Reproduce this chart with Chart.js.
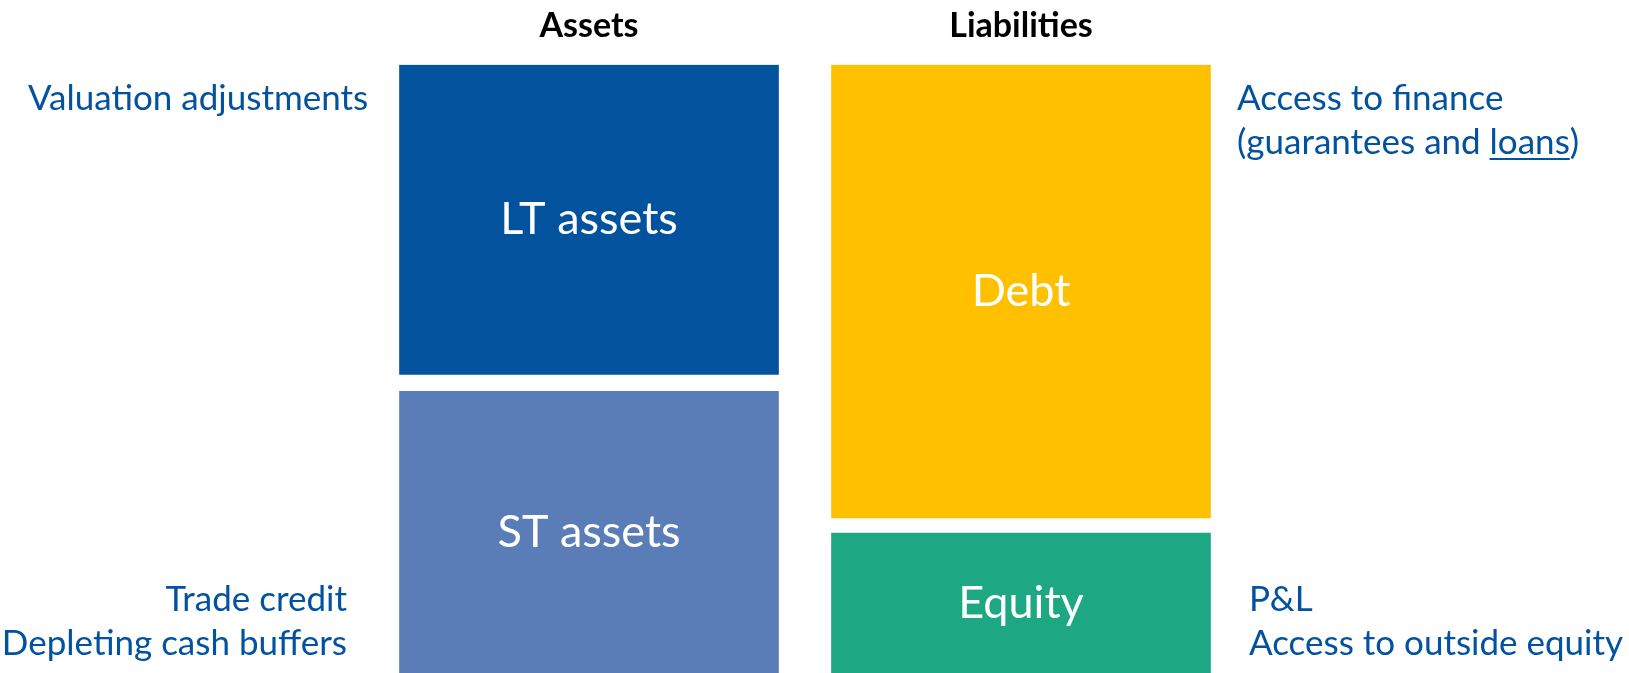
<!DOCTYPE html>
<html>
<head>
<meta charset="utf-8">
<script src="https://cdn.jsdelivr.net/npm/chart.js@4/dist/chart.umd.min.js"></script>
<style>
    body { margin: 0; background: #ffffff; }
    #wrap { width: 1629px; height: 673px; position: relative; }
</style>
</head>
<body>
<div id="wrap"><canvas id="bilan"></canvas></div>
<script>
// categories (top labels)
var categories = ['Assets', 'Liabilities'];

// lower blocks (floating ranges, share of balance sheet total)
var lowerNames = ['ST assets', 'Equity'];
var lowerValues = [[0, 46.3], [0, 23.0]];

// upper blocks
var upperNames = ['LT assets', 'Debt'];
var upperValues = [[49.1, 100], [25.5, 100]];

// side notes
var notesTopLeft = ['Valuation adjustments'];
var notesBottomLeft = ['Trade credit', 'Depleting cash buffers'];
var notesTopRight = ['Access to finance', '(guarantees and ', 'loans', ')'];
var notesBottomRight = ['P&L', 'Access to outside equity'];

var police = 'Lato, "Open Sans", sans-serif';
var bleuTexte = '#0352A0';

// labels inside each block, at the centre of the bar element
var etiquettesBarres = {
    id: 'etiquettesBarres',
    afterDatasetsDraw: function (chart) {
        var ctx = chart.ctx;
        ctx.save();
        ctx.fillStyle = '#ffffff';
        ctx.font = '45px ' + police;
        ctx.textAlign = 'center';
        ctx.textBaseline = 'middle';
        chart.data.datasets.forEach(function (ds, i) {
            var meta = chart.getDatasetMeta(i);
            meta.data.forEach(function (el, j) {
                ctx.fillText(ds.names[j], el.x, (el.y + el.base) / 2);
            });
        });
        ctx.restore();
    }
};

// blue comments on both sides
var notes = {
    id: 'notes',
    afterDraw: function (chart) {
        var ctx = chart.ctx;
        ctx.save();
        ctx.fillStyle = bleuTexte;
        ctx.strokeStyle = bleuTexte;
        ctx.font = '35px ' + police;
        ctx.textBaseline = 'middle';

        ctx.textAlign = 'left';
        ctx.fillText(notesTopLeft[0], 28, 99);

        ctx.textAlign = 'right';
        ctx.fillText(notesBottomLeft[0], 347, 600);
        ctx.fillText(notesBottomLeft[1], 347, 644);

        ctx.textAlign = 'left';
        ctx.fillText(notesTopRight[0], 1237, 99);
        var x = 1237;
        ctx.fillText(notesTopRight[1], x, 143);
        x += ctx.measureText(notesTopRight[1]).width;
        ctx.fillText(notesTopRight[2], x, 143);
        var w = ctx.measureText(notesTopRight[2]).width;
        ctx.lineWidth = 2;
        ctx.beginPath();
        ctx.moveTo(x, 159);
        ctx.lineTo(x + w, 159);
        ctx.stroke();
        ctx.fillText(notesTopRight[3], x + w, 143);

        ctx.fillText(notesBottomRight[0], 1249, 600);
        ctx.fillText(notesBottomRight[1], 1249, 644);
        ctx.restore();
    }
};

var ctx = document.getElementById('bilan').getContext('2d');
var chart = new Chart(ctx, {
    type: 'bar',
    data: {
        labels: categories,
        datasets: [{
            label: 'bas',
            names: lowerNames,
            data: lowerValues,
            backgroundColor: ['#5B7DB7', '#1DA883'],
            grouped: false,
            barThickness: 379,
            borderWidth: 0
        }, {
            label: 'haut',
            names: upperNames,
            data: upperValues,
            backgroundColor: ['#03529E', '#FFC000'],
            grouped: false,
            barThickness: 379,
            borderWidth: 0
        }]
    },
    options: {
        responsive: true,
        maintainAspectRatio: false,
        animation: false,
        layout: { padding: { left: 373, right: 392, top: -12, bottom: 0 } },
        plugins: {
            legend: { display: false },
            tooltip: { enabled: false }
        },
        scales: {
            x: {
                position: 'top',
                grid: { display: false, drawTicks: false },
                border: { display: false },
                ticks: {
                    color: '#000000',
                    padding: 18,
                    font: { family: police, size: 34, weight: 'bold' }
                }
            },
            y: {
                display: false,
                min: 0,
                max: 100
            }
        }
    },
    plugins: [etiquettesBarres, notes]
});
</script>
</body>
</html>
